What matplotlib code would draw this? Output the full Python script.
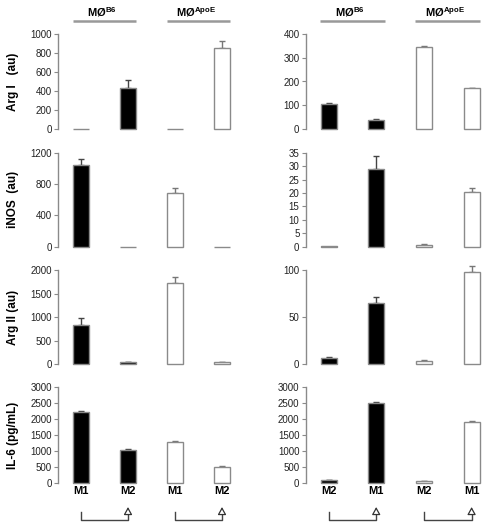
import matplotlib
matplotlib.use("Agg")
import matplotlib.pyplot as plt
import numpy as np

plt.rcParams['font.family'] = ['Liberation Sans', 'DejaVu Sans']
plt.rcParams['mathtext.fontset'] = 'custom'
plt.rcParams['mathtext.rm'] = 'Liberation Sans'
plt.rcParams['mathtext.bf'] = 'Liberation Sans:bold'

# ---------------- data ----------------
left_xlabels = ["M1", "M2", "M1", "M2"]
right_xlabels = ["M2", "M1", "M2", "M1"]
group_labels = [r"MØ$^{\mathbf{B6}}$", r"MØ$^{\mathbf{ApoE}}$"]
row_labels = ["Arg I   (au)", "iNOS  (au)", "Arg II (au)", "IL-6 (pg/mL)"]

argI_left = [0, 430, 0, 856]
argI_left_err = [0, 83, 0, 73]
argI_right = [107, 37, 347, 172]
argI_right_err = [4, 5, 2, 2]

inos_left = [1045, 0, 682, 0]
inos_left_err = [70, 0, 70, 0]
inos_right = [0.2, 28.8, 0.7, 20.2]
inos_right_err = [0, 5.0, 0.2, 1.5]

argII_left = [833, 40, 1718, 40]
argII_left_err = [142, 5, 140, 5]
argII_right = [7, 64.5, 3.5, 98]
argII_right_err = [0.5, 6.5, 1, 6]

il6_left = [2214, 1040, 1270, 503]
il6_left_err = [50, 10, 40, 10]
il6_right = [80, 2500, 60, 1900]
il6_right_err = [5, 30, 5, 25]

left_ticks = [[0, 200, 400, 600, 800, 1000], [0, 400, 800, 1200],
              [0, 500, 1000, 1500, 2000], [0, 500, 1000, 1500, 2000, 2500, 3000]]
right_ticks = [[0, 100, 200, 300, 400], [0, 5, 10, 15, 20, 25, 30, 35],
               [0, 50, 100], [0, 500, 1000, 1500, 2000, 2500, 3000]]

rows_left = [(argI_left, argI_left_err), (inos_left, inos_left_err),
             (argII_left, argII_left_err), (il6_left, il6_left_err)]
rows_right = [(argI_right, argI_right_err), (inos_right, inos_right_err),
              (argII_right, argII_right_err), (il6_right, il6_right_err)]

fill_colors = ["black", "black", "white", "white"]

# ---------------- layout (pixels) ----------------
W, H = 484, 525
fig = plt.figure(figsize=(W / 100, H / 100), dpi=100)

row_pix = [(34, 129), (152.7, 246.7), (270, 364.3), (387.3, 482.7)]
col_pix = [(58, 240, 81, 47.0), (305.7, 484, 328.5, 47.7)]  # x0, x1, first bar center, spacing

grey = "#8a8a8a"
x = np.arange(4)

axes = {}
for ci, (x0, x1, c0, sp) in enumerate(col_pix):
    data_rows = rows_left if ci == 0 else rows_right
    ticks_rows = left_ticks if ci == 0 else right_ticks
    for ri, (ytop, ybot) in enumerate(row_pix):
        ax = fig.add_axes([x0 / W, (H - ybot) / H, (x1 - x0) / W, (ybot - ytop) / H])
        axes[(ri, ci)] = ax
        vals, errs = data_rows[ri]
        ticks = ticks_rows[ri]
        bw = 16 / sp
        ax.bar(x, vals, width=bw, color=fill_colors, edgecolor=grey,
               linewidth=1.0, clip_on=False, zorder=3)
        for xi, v, e, fc in zip(x, vals, errs, fill_colors):
            if e > 0:
                eb = ax.errorbar([xi], [v], yerr=[[0], [e]], fmt="none",
                                 ecolor="#444444" if fc == "black" else "#777777",
                                 elinewidth=1.0, capsize=2.5, capthick=1.0, zorder=2)
                for art in eb.lines[1] + eb.lines[2]:
                    art.set_clip_on(False)
        ax.set_xlim(-(c0 - x0) / sp, (x1 - c0) / sp)
        ax.set_ylim(0, ticks[-1])
        ax.set_yticks(ticks)
        ax.set_xticks([])
        for s in ["top", "right", "bottom"]:
            ax.spines[s].set_visible(False)
        ax.spines["left"].set_color(grey)
        ax.spines["left"].set_linewidth(1.0)
        ax.tick_params(axis="y", colors=grey, labelcolor="#222222", labelsize=7,
                       length=3, width=0.8, pad=1.5)
        ax.patch.set_visible(False)

        if ci == 0:
            yc = (H - (ytop + ybot) / 2) / H
            fig.text(13 / W, yc, row_labels[ri], rotation=90, ha="center",
                     va="center", fontsize=8.5, fontweight="bold")

    # headers
    ax = axes[(0, ci)]
    trans = ax.get_xaxis_transform()
    ytop, ybot = row_pix[0]
    line_y = (ybot - 21) / (ybot - ytop)
    text_y = (ybot - 12) / (ybot - ytop)
    for gi, lab in enumerate(group_labels):
        xa = gi * 2 - 0.18
        xb = gi * 2 + 1.18
        ax.plot([xa, xb], [line_y, line_y], transform=trans, color="#999999",
                lw=1.8, clip_on=False, solid_capstyle="butt")
        ax.text(gi * 2 + 0.45, text_y, lab, transform=trans, ha="center",
                va="center", fontsize=8, fontweight="bold")

    # bottom labels and brackets
    ax = axes[(3, ci)]
    trans = ax.get_xaxis_transform()
    ytop, ybot = row_pix[3]
    hh = ybot - ytop
    labs = left_xlabels if ci == 0 else right_xlabels
    for xi, lab in zip(x, labs):
        ax.text(xi, (ybot - 491) / hh, lab, transform=trans, ha="center",
                va="center", fontsize=8, fontweight="bold")
    yb = (ybot - 520) / hh
    yt = (ybot - 512) / hh
    ytip = (ybot - 507) / hh
    for g in range(2):
        xa, xb = g * 2, g * 2 + 1
        ax.plot([xa, xa, xb, xb], [yt, yb, yb, (ybot - 510.5) / hh],
                transform=trans, color="#444444", lw=1.0, clip_on=False)
        ax.annotate("", xy=(xb, ytip), xytext=(xb, (ybot - 512) / hh),
                    xycoords=trans, textcoords=trans,
                    arrowprops=dict(arrowstyle="-|>,head_length=0.45,head_width=0.25",
                                    fc="white", ec="#333333", lw=0.9,
                                    shrinkA=0, shrinkB=0))

fig.savefig("out.png", dpi=100)
